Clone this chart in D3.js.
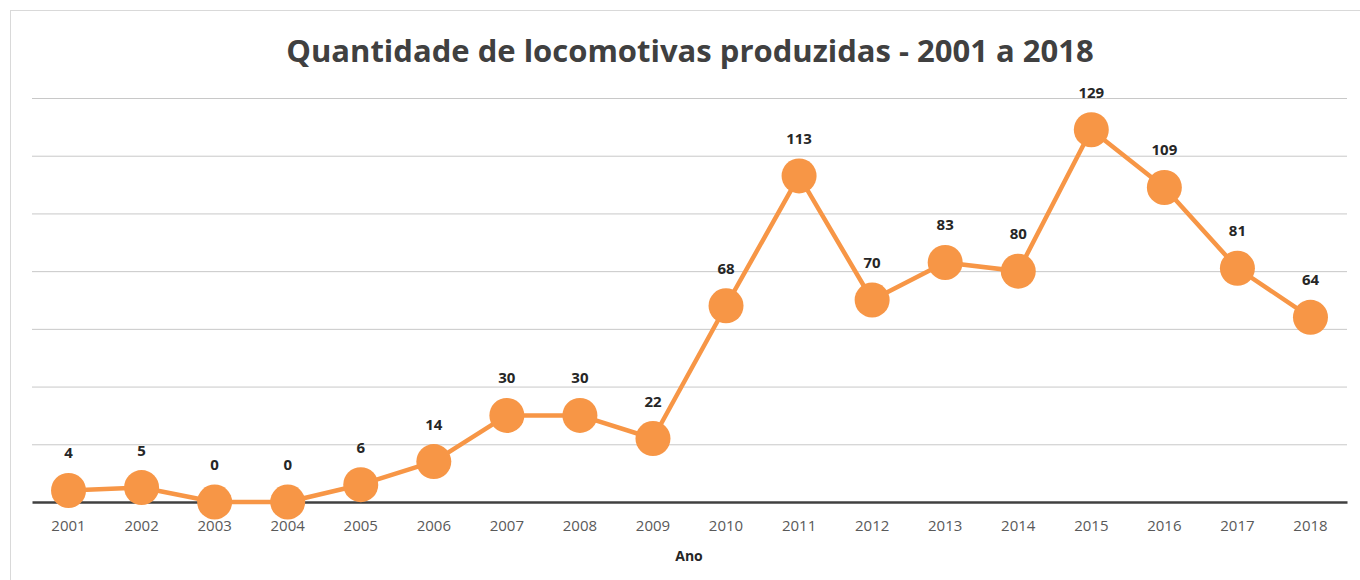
<!DOCTYPE html>
<html>
<head>
<meta charset="utf-8">
<script src="https://cdn.jsdelivr.net/npm/d3@7"></script>
<style>
  html, body { margin: 0; padding: 0; background: #fff; }
  svg { display: block; }
  .title { font-family: "Open Sans", sans-serif; font-weight: bold; fill: #404040; }
  .lbl { font-family: "Open Sans", sans-serif; font-weight: bold; fill: #262626; }
  .tick text { font-family: "Open Sans", sans-serif; fill: #595959; }
</style>
</head>
<body>
<div id="chart"></div>
<script>
// Chart data
const years = ['2001','2002','2003','2004','2005','2006','2007','2008','2009',
               '2010','2011','2012','2013','2014','2015','2016','2017','2018'];
const locomotives = [4, 5, 0, 0, 6, 14, 30, 30, 22, 68, 113, 70, 83, 80, 129, 109, 81, 64];
const yTicks = [0, 20, 40, 60, 80, 100, 120, 140];

const W = 1360, H = 580;
const plot = { left: 32, right: 1347, top: 98, bottom: 502 };

const svg = d3.select('#chart').append('svg')
  .attr('width', W).attr('height', H);

// outer frame of the chart area
svg.append('rect')
  .attr('x', 10.5).attr('y', 10.5)
  .attr('width', W - 10).attr('height', H - 10)
  .attr('fill', '#fff').attr('stroke', '#d9d9d9');

const x = d3.scaleBand().domain(years).range([plot.left, plot.right]);
const y = d3.scaleLinear().domain([0, 140]).range([plot.bottom, plot.top]);
const cx = d => x(d) + x.bandwidth() / 2;

// horizontal gridlines
svg.append('g').selectAll('line')
  .data(yTicks.slice(1))
  .join('line')
  .attr('x1', plot.left).attr('x2', plot.right)
  .attr('y1', d => y(d) + 0.5).attr('y2', d => y(d) + 0.5)
  .attr('stroke', '#c8c8c8').attr('stroke-width', 1);

// x axis
const xAxis = svg.append('g')
  .attr('transform', `translate(0,${plot.bottom})`)
  .call(d3.axisBottom(x).tickSize(0).tickPadding(18));
xAxis.select('.domain').attr('stroke', '#404040').attr('stroke-width', 2.5);
xAxis.selectAll('.tick text').attr('font-size', 15);

// line + markers
const pts = years.map((yr, i) => ({ yr, v: locomotives[i] }));
svg.append('path')
  .datum(pts)
  .attr('fill', 'none')
  .attr('stroke', '#f79646')
  .attr('stroke-width', 4.5)
  .attr('stroke-linejoin', 'round')
  .attr('d', d3.line().x(d => cx(d.yr)).y(d => y(d.v)));

svg.append('g').selectAll('circle')
  .data(pts)
  .join('circle')
  .attr('cx', d => cx(d.yr)).attr('cy', d => y(d.v))
  .attr('r', 17.5)
  .attr('fill', '#f79646');

// data labels
svg.append('g').selectAll('text')
  .data(pts)
  .join('text')
  .attr('class', 'lbl')
  .attr('x', d => cx(d.yr)).attr('y', d => y(d.v) - 32)
  .attr('text-anchor', 'middle')
  .attr('font-size', 15)
  .text(d => d.v);

// title and axis title
svg.append('text')
  .attr('class', 'title')
  .attr('x', 690).attr('y', 62)
  .attr('text-anchor', 'middle')
  .attr('font-size', 31)
  .text('Quantidade de locomotivas produzidas - 2001 a 2018');

svg.append('text')
  .attr('class', 'lbl')
  .attr('x', 689).attr('y', 561)
  .attr('text-anchor', 'middle')
  .attr('font-size', 14)
  .attr('fill', '#595959')
  .text('Ano');
</script>
</body>
</html>
